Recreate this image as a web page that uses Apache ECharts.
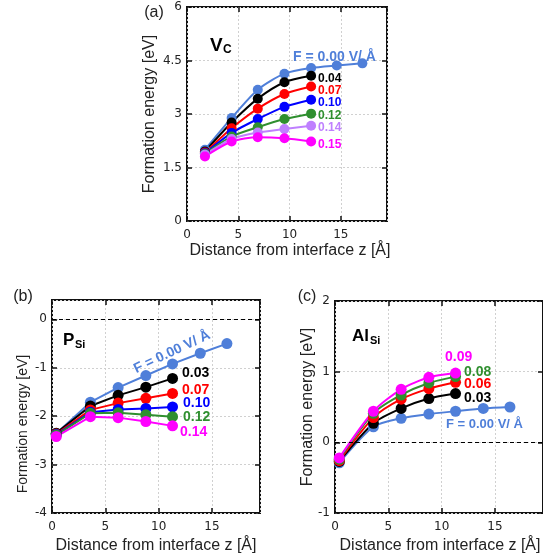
<!DOCTYPE html>
<html>
<head>
<meta charset="utf-8">
<script src="https://cdn.jsdelivr.net/npm/echarts@6/dist/echarts.min.js"></script>
<style>
html,body{margin:0;padding:0;background:#fff;}
#chart{width:543px;height:559px;}
</style>
</head>
<body>
<div id="chart"></div>
<script>
// ---- Data ----
// Panel (a): V_C
const xA = [1.75, 4.35, 6.9, 9.5, 12.1, 14.6, 17.1];
const aF000 = [2.0, 2.89, 3.68, 4.13, 4.29, 4.36, 4.42];
const aF004 = [1.95, 2.76, 3.43, 3.89, 4.07];
const aF007 = [1.92, 2.6, 3.15, 3.56, 3.77];
const aF010 = [1.9, 2.47, 2.86, 3.2, 3.4];
const aF012 = [1.88, 2.37, 2.63, 2.86, 3.01];
const aF014 = [1.86, 2.3, 2.48, 2.58, 2.67];
const aF015 = [1.81, 2.23, 2.35, 2.32, 2.23];
// Panel (b): P_Si
const xB = [0.4, 3.6, 6.2, 8.8, 11.3, 13.9, 16.4];
const bF000 = [-2.36, -1.71, -1.41, -1.16, -0.92, -0.70, -0.50];
const bF003 = [-2.35, -1.79, -1.57, -1.40, -1.22];
const bF007 = [-2.37, -1.87, -1.73, -1.63, -1.53];
const bF010 = [-2.38, -1.92, -1.86, -1.84, -1.81];
const bF012 = [-2.39, -1.94, -1.93, -1.97, -2.01];
const bF014 = [-2.42, -2.01, -2.03, -2.11, -2.20];
// Panel (c): Al_Si
const xC = [0.4, 3.6, 6.2, 8.8, 11.3, 13.9, 16.4];
const cF000 = [-0.29, 0.22, 0.34, 0.40, 0.44, 0.48, 0.50];
const cF003 = [-0.27, 0.27, 0.48, 0.62, 0.69];
const cF006 = [-0.26, 0.35, 0.61, 0.76, 0.85];
const cF008 = [-0.24, 0.41, 0.67, 0.84, 0.93];
const cF009 = [-0.22, 0.44, 0.75, 0.92, 0.98];

const xTitle = 'Distance from interface z [Å]';
const yTitle = 'Formation energy [eV]';

const C = {
  f0: '#4f7fd9', black: '#000000', red: '#ff0000', blue: '#0000ff',
  green: '#2f8f2f', lav: '#bf80ff', mag: '#ff00ff'
};

function pts(xs, ys) { return ys.map((y, i) => [xs[i], y]); }

const tickFont = { fontFamily: 'DejaVu Sans', fontSize: 12, color: '#222' };
const tickStyle = { inside: true, length: 5, lineStyle: { color: '#111', width: 1.5 } };
const gridLine = { show: true, lineStyle: { color: '#d0d0d0', type: [2, 2], width: 1 } };

function axesFor(g, ymin, ymax, yint) {
  const xs = [
    { type: 'value', gridIndex: g, min: 0, max: 19.5, interval: 5,
      axisLine: { show: false, onZero: false },
      axisTick: tickStyle,
      axisLabel: Object.assign({ margin: 8, showMaxLabel: false }, tickFont),
      splitLine: gridLine },
    { type: 'value', gridIndex: g, position: 'top', min: 0, max: 19.5, interval: 5,
      axisLine: { show: false, onZero: false },
      axisTick: tickStyle,
      axisLabel: { show: false }, splitLine: { show: false } }
  ];
  const ys = [
    { type: 'value', gridIndex: g, min: ymin, max: ymax, interval: yint,
      axisLine: { show: false, onZero: false },
      axisTick: tickStyle,
      axisLabel: Object.assign({ margin: 5, showMaxLabel: ymax % yint === 0 }, tickFont),
      splitLine: gridLine },
    { type: 'value', gridIndex: g, position: 'right', min: ymin, max: ymax, interval: yint,
      axisLine: { show: false, onZero: false },
      axisTick: tickStyle,
      axisLabel: { show: false }, splitLine: { show: false } }
  ];
  return { xs, ys };
}

const axA = axesFor(0, 0, 6, 1.5);
const axB = axesFor(1, -4, 0.4, 1);
const axC = axesFor(2, -1, 2, 1);

const xAxis = [...axA.xs, ...axB.xs, ...axC.xs];
const yAxis = [...axA.ys, ...axB.ys, ...axC.ys];

function line(panel, xs, ys, color, size, smooth, extra) {
  const xi = panel * 2, yi = panel * 2;
  return Object.assign({
    type: 'line', xAxisIndex: xi, yAxisIndex: yi,
    data: pts(xs, ys), smooth: smooth,
    symbol: 'circle', symbolSize: size,
    lineStyle: { color: color, width: 2 },
    itemStyle: { color: color },
    z: 3, animation: false
  }, extra || {});
}

const zeroLine = {
  markLine: {
    silent: true, symbol: ['none', 'none'], label: { show: false },
    lineStyle: { color: '#000', type: [4, 3], width: 1 },
    data: [{ yAxis: 0 }]
  }
};

const series = [
  line(0, xA, aF000, C.f0, 10, 0.25),
  line(0, xA, aF004, C.black, 10, 0.25),
  line(0, xA, aF007, C.red, 10, 0.25),
  line(0, xA, aF010, C.blue, 10, 0.25),
  line(0, xA, aF012, C.green, 10, 0.25),
  line(0, xA, aF014, C.lav, 10, 0.25),
  line(0, xA, aF015, C.mag, 10, 0.25),
  line(1, xB, bF000, C.f0, 11, false, zeroLine),
  line(1, xB, bF003, C.black, 11, false),
  line(1, xB, bF007, C.red, 11, false),
  line(1, xB, bF010, C.blue, 11, false),
  line(1, xB, bF012, C.green, 11, false),
  line(1, xB, bF014, C.mag, 11, false),
  line(2, xC, cF000, C.f0, 11, 0.25, zeroLine),
  line(2, xC, cF003, C.black, 11, 0.25),
  line(2, xC, cF006, C.red, 11, 0.25),
  line(2, xC, cF008, C.green, 11, 0.25),
  line(2, xC, cF009, C.mag, 11, 0.25)
];

function txt(text, x, y, opts) {
  opts = opts || {};
  return {
    type: 'text', x: x, y: y, rotation: opts.rotation || 0, z: 10,
    style: {
      text: text,
      fill: opts.color || '#222',
      font: opts.font || '16px "Liberation Sans"',
      textAlign: opts.align || 'center',
      textVerticalAlign: opts.valign || 'middle'
    }
  };
}

const bold12 = 'bold 12px "Liberation Sans"';
const bold14 = 'bold 14px "Liberation Sans"';
const bold13 = 'bold 13px "Liberation Sans"';

const graphic = [
  // panel tags
  txt('(a)', 154, 13, { font: '16px "Liberation Sans"' }),
  txt('(b)', 23, 297, { font: '16px "Liberation Sans"' }),
  txt('(c)', 307, 297, { font: '16px "Liberation Sans"' }),
  // axis titles
  txt(xTitle, 290, 251, { font: '16px "Liberation Sans"', color: '#222' }),
  txt(yTitle, 150, 114, { font: '16px "Liberation Sans"', rotation: Math.PI / 2, color: '#222' }),
  txt(xTitle, 156, 546, { font: '16px "Liberation Sans"', color: '#222' }),
  txt(yTitle, 23, 424, { font: '14px "Liberation Sans"', rotation: Math.PI / 2, color: '#222' }),
  txt(xTitle, 440, 546, { font: '16px "Liberation Sans"', color: '#222' }),
  txt(yTitle, 308, 407, { font: '16px "Liberation Sans"', rotation: Math.PI / 2, color: '#222' }),
  // defect names
  txt('V', 210, 46, { font: 'bold 19px "Liberation Sans"', align: 'left', color: '#000' }),
  txt('C', 223, 50, { font: 'bold 12px "Liberation Sans"', align: 'left', color: '#000' }),
  txt('P', 63, 340, { font: 'bold 17px "Liberation Sans"', align: 'left', color: '#000' }),
  txt('Si', 75, 345, { font: 'bold 11px "Liberation Sans"', align: 'left', color: '#000' }),
  txt('Al', 352, 336, { font: 'bold 17px "Liberation Sans"', align: 'left', color: '#000' }),
  txt('Si', 370, 341, { font: 'bold 11px "Liberation Sans"', align: 'left', color: '#000' }),
  // panel (a) field labels
  txt('F = 0.00 V/ Å', 293, 57, { font: bold14, align: 'left', color: C.f0 }),
  txt('0.04', 318, 79, { font: bold12, align: 'left', color: C.black }),
  txt('0.07', 318, 91, { font: bold12, align: 'left', color: C.red }),
  txt('0.10', 318, 103, { font: bold12, align: 'left', color: C.blue }),
  txt('0.12', 318, 116, { font: bold12, align: 'left', color: C.green }),
  txt('0.14', 318, 128, { font: bold12, align: 'left', color: C.lav }),
  txt('0.15', 318, 145, { font: bold12, align: 'left', color: C.mag }),
  // panel (b) field labels
  txt('F = 0.00 V/ Å', 172, 352, { font: bold14, color: C.f0, rotation: 0.44 }),
  txt('0.03', 182, 373, { font: bold14, align: 'left', color: C.black }),
  txt('0.07', 182, 390, { font: bold14, align: 'left', color: C.red }),
  txt('0.10', 183, 403, { font: bold14, align: 'left', color: C.blue }),
  txt('0.12', 183, 417, { font: bold14, align: 'left', color: C.green }),
  txt('0.14', 180, 432, { font: bold14, align: 'left', color: C.mag }),
  // panel (c) field labels
  txt('0.09', 445, 357, { font: bold14, align: 'left', color: C.mag }),
  txt('0.08', 464, 372, { font: bold14, align: 'left', color: C.green }),
  txt('0.06', 464, 384, { font: bold14, align: 'left', color: C.red }),
  txt('0.03', 464, 398, { font: bold14, align: 'left', color: C.black }),
  txt('F = 0.00 V/ Å', 446, 424, { font: bold13, align: 'left', color: C.f0 })
];

const chart = echarts.init(document.getElementById('chart'), null, { renderer: 'canvas' });
chart.setOption({
  animation: false,
  backgroundColor: '#ffffff',
  grid: [
    { left: 187, top: 7, width: 200, height: 214, show: true, borderColor: '#111', borderWidth: 2, backgroundColor: 'transparent' },
    { left: 52, top: 300, width: 208, height: 213, show: true, borderColor: '#111', borderWidth: 2, backgroundColor: 'transparent' },
    { left: 335, top: 301, width: 210, height: 212, show: true, borderColor: '#111', borderWidth: 2, backgroundColor: 'transparent' }
  ],
  xAxis: xAxis,
  yAxis: yAxis,
  series: series,
  graphic: graphic
});
</script>
</body>
</html>
